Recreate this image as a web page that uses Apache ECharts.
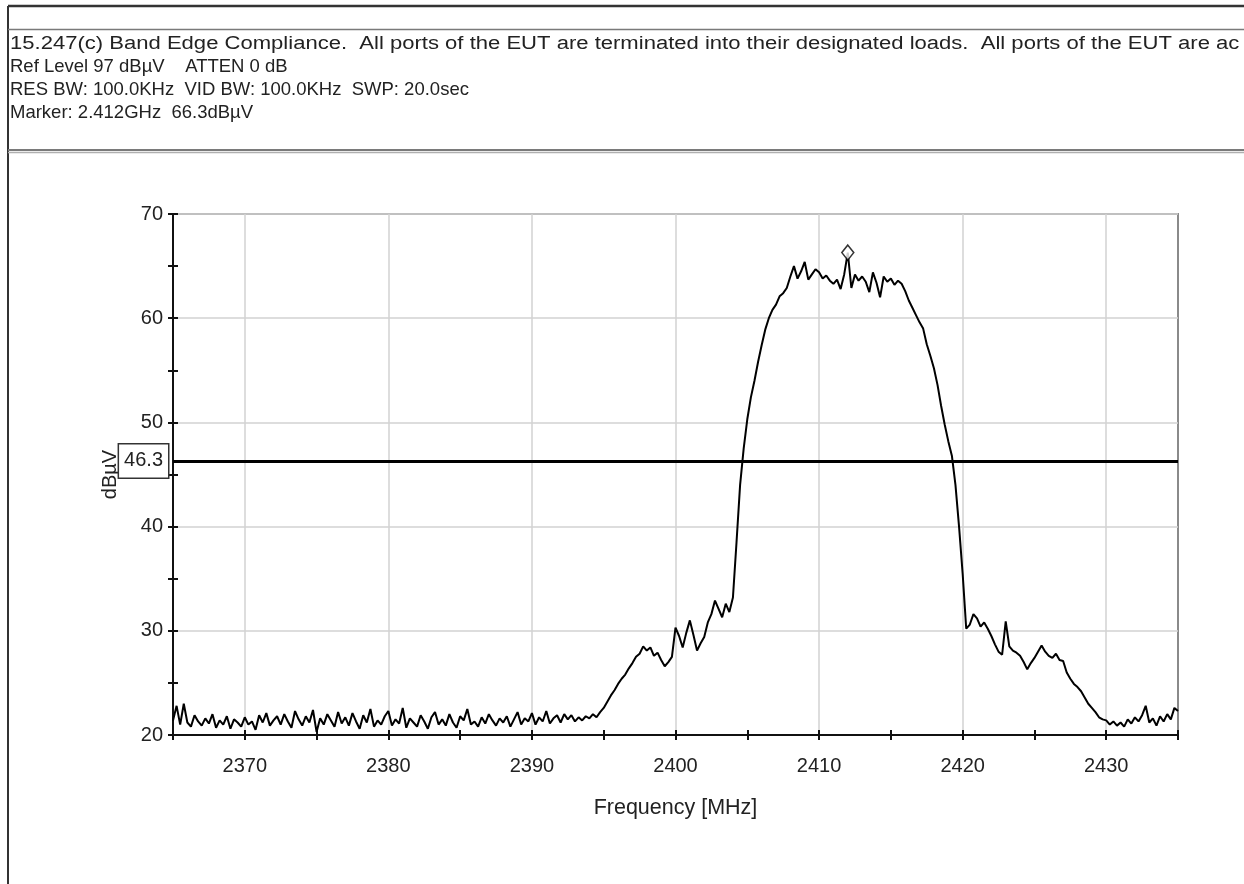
<!DOCTYPE html>
<html>
<head>
<meta charset="utf-8">
<script src="https://cdn.jsdelivr.net/npm/echarts@6/dist/echarts.min.js"></script>
<style>
html,body{margin:0;padding:0;background:#fff;}
#chart{width:1244px;height:884px;}
</style>
</head>
<body>
<div id="chart"></div>
<script>
// Header text lines
const headerLines = [
  "15.247(c) Band Edge Compliance.  All ports of the EUT are terminated into their designated loads.  All ports of the EUT are ac",
  "Ref Level 97 dB\u00b5V    ATTEN 0 dB",
  "RES BW: 100.0KHz  VID BW: 100.0KHz  SWP: 20.0sec",
  "Marker: 2.412GHz  66.3dB\u00b5V"
];

// Sweep frequency grid (MHz)
const sweepStart = 2365;
const sweepStep = 0.25;

const noiseLow = [
  21.4, 22.8, 21.0, 23.0, 21.2, 20.8, 21.9, 21.3, 20.9, 21.6,
  21.1, 22.0, 20.7, 21.4, 21.0, 21.8, 20.6, 21.5, 21.2, 20.8,
  21.7, 21.0, 21.3, 20.5, 21.9, 21.2, 22.1, 20.9, 21.4, 21.8,
  21.0, 22.0, 21.3, 20.7, 22.3, 21.5, 20.9, 21.8, 21.2, 22.4,
  20.3, 21.6, 21.0, 22.0, 21.4, 20.8, 22.2, 21.1, 21.7, 20.9,
  22.1, 21.3, 20.6, 21.9, 21.2, 22.5, 20.8, 21.4, 21.0, 21.8,
  22.3, 20.9, 21.5, 21.1, 22.6, 20.7, 21.6, 21.2, 20.8, 21.9,
  21.3, 20.6, 21.7, 22.2, 21.0, 21.5, 20.9, 22.0, 21.2, 20.7,
  21.8, 21.4, 22.5, 21.0, 21.3, 20.8, 21.7, 21.1, 22.0, 21.4,
  20.9, 21.6, 21.2, 21.8, 20.8, 21.5, 22.2, 21.0, 21.6, 21.3,
  22.1, 21.0, 21.7, 21.3, 22.3, 21.1, 21.6, 21.9, 21.2, 22.0,
  21.5, 21.9, 21.3, 21.7, 21.4, 21.8, 21.6, 22.0, 21.7, 22.2
];
const riseLow = [
  22.6, 23.2, 23.8, 24.3, 24.9, 25.4, 25.8, 26.4, 26.9, 27.5,
  27.8, 28.5, 28.1, 28.4, 27.6, 27.9, 27.2, 26.6, 27.0, 27.5,
  30.3, 29.5, 28.4, 29.8, 31.0, 29.6, 28.1, 28.8, 29.4, 30.8,
  31.6, 32.9, 32.1, 31.3, 32.6, 31.8, 33.2, 38.5, 44.0, 47.5
];
const bandTop = [
  50.3, 52.4, 54.0, 55.8, 57.4, 58.9, 60.0, 60.8, 61.3, 62.1,
  62.4, 62.9, 64.0, 65.0, 63.8, 64.5, 65.4, 63.7, 64.2, 64.7,
  64.4, 63.8, 64.1, 63.6, 63.3, 63.7, 62.8, 64.2, 66.3, 62.9,
  64.2, 63.6, 64.0, 63.5, 62.5, 64.4, 63.4, 62.0, 64.0, 63.5,
  63.8, 63.2, 63.6, 63.3, 62.6, 61.7, 61.0, 60.3, 59.6, 59.0,
  57.5, 56.4, 55.2, 53.6, 51.6, 49.8, 48.2, 46.8, 44.0, 40.0
];
const tailHigh = [
  35.5, 30.2, 30.6, 31.6, 31.2, 30.4, 30.8, 30.2, 29.5, 28.7,
  28.0, 27.7, 30.9, 28.5, 28.1, 27.9, 27.6, 27.0, 26.3, 26.9,
  27.4, 28.0, 28.6, 28.0, 27.6, 27.4, 27.8, 27.2, 27.1, 26.0,
  25.4, 24.9, 24.6, 24.2, 23.6, 23.0, 22.6, 22.2, 21.7, 21.5,
  21.4, 21.0, 21.3, 20.9, 21.2, 20.8, 21.5, 21.1, 21.7, 21.3,
  21.9, 22.8, 21.2, 21.6, 20.9, 21.8, 21.3, 22.0, 21.5, 22.6,
  22.3
];

const limitLevel = 46.3;
const markerPoint = [2412, 66.3];

const xLabelValues = [2370, 2380, 2390, 2400, 2410, 2420, 2430];
const yLabelValues = [20, 30, 40, 50, 60, 70];

const trace = noiseLow.concat(riseLow, bandTop, tailHigh);
const traceData = trace.map((v, i) => [sweepStart + i * sweepStep, v]);

const chart = echarts.init(document.getElementById('chart'), null, {renderer: 'canvas'});

const FONT = '"Liberation Sans", Arial, sans-serif';
const TXT = '#222';

const headerGraphics = headerLines.map((t, i) => ({
  type: 'text',
  x: 10,
  y: 44 + i * 23,
  scaleX: i === 0 ? 1.225 : 1.0,
  style: {text: t, font: (i === 0 ? '18px ' : '18.5px ') + FONT, fill: TXT, verticalAlign: 'middle', align: 'left'}
}));

const option = {
  animation: false,
  backgroundColor: '#fff',
  grid: {
    left: 173, top: 214, right: 66, bottom: 149,
    show: true, borderColor: '#8a8a8a', borderWidth: 2, backgroundColor: 'transparent'
  },
  xAxis: [{
    type: 'value', min: 2365, max: 2435, interval: 5,
    name: 'Frequency [MHz]', nameLocation: 'middle', nameGap: 62,
    nameTextStyle: {fontFamily: FONT, fontSize: 21.5, color: TXT},
    axisLine: {show: true, onZero: false, lineStyle: {color: '#111', width: 2}},
    axisTick: {show: true, inside: false, length: 5, lineStyle: {color: '#111', width: 2}},
    axisLabel: {
      margin: 21, fontFamily: FONT, fontSize: 20, color: TXT,
      formatter: v => xLabelValues.indexOf(Math.round(v)) >= 0 ? String(Math.round(v)) : ''
    },
    splitLine: {show: true, lineStyle: {color: ['rgba(0,0,0,0)', '#d2d2d2'], width: 1.5}}
  }, {
    type: 'value', min: 2365, max: 2435, interval: 5, position: 'bottom',
    axisLine: {show: false, onZero: false},
    axisTick: {show: true, inside: true, length: 5, lineStyle: {color: '#111', width: 2}},
    axisLabel: {show: false}, splitLine: {show: false}
  }],
  yAxis: [{
    type: 'value', min: 20, max: 70, interval: 5,
    name: 'dB\u00b5V', nameLocation: 'middle', nameGap: 53, nameRotate: 90,
    nameTextStyle: {fontFamily: FONT, fontSize: 20, color: TXT},
    axisLine: {show: true, onZero: false, lineStyle: {color: '#111', width: 2}},
    axisTick: {show: true, inside: false, length: 5, lineStyle: {color: '#111', width: 2}},
    axisLabel: {
      margin: 10, fontFamily: FONT, fontSize: 20, color: TXT,
      formatter: v => yLabelValues.indexOf(Math.round(v)) >= 0 ? String(Math.round(v)) : ''
    },
    splitLine: {show: true, lineStyle: {color: ['#d2d2d2', 'rgba(0,0,0,0)'], width: 1.5}}
  }, {
    type: 'value', min: 20, max: 70, interval: 5, position: 'left',
    axisLine: {show: false, onZero: false},
    axisTick: {show: true, inside: true, length: 5, lineStyle: {color: '#111', width: 2}},
    axisLabel: {show: false}, splitLine: {show: false}
  }],
  graphic: [
    {type: 'line', shape: {x1: 8, y1: 6, x2: 1244, y2: 6}, style: {stroke: '#333', lineWidth: 2.5}},
    {type: 'line', shape: {x1: 8, y1: 6, x2: 8, y2: 884}, style: {stroke: '#333', lineWidth: 2}},
    {type: 'line', shape: {x1: 8, y1: 29.5, x2: 1244, y2: 29.5}, style: {stroke: '#7a7a7a', lineWidth: 1.5}},
    {type: 'line', shape: {x1: 8, y1: 150, x2: 1244, y2: 150}, style: {stroke: '#7a7a7a', lineWidth: 2}},
    {type: 'line', shape: {x1: 8, y1: 152.5, x2: 1244, y2: 152.5}, style: {stroke: '#b0b0b0', lineWidth: 1.5}}
  ].concat(headerGraphics),
  series: [{
    type: 'line',
    data: traceData,
    showSymbol: false,
    symbol: 'none',
    lineStyle: {color: '#000', width: 2},
    silent: true,
    z: 3,
    markLine: {
      silent: true,
      symbol: ['none', 'none'],
      lineStyle: {color: '#000', width: 3, type: 'solid'},
      label: {
        show: true, position: 'start', distance: 5,
        formatter: String(limitLevel),
        fontFamily: FONT, fontSize: 20, color: TXT,
        backgroundColor: '#fff', borderColor: '#333', borderWidth: 1.5,
        padding: [7, 5, 6, 5]
      },
      data: [{yAxis: limitLevel}]
    }
  }, {
    type: 'scatter',
    data: [markerPoint],
    symbol: 'diamond',
    symbolSize: [12, 15],
    itemStyle: {color: '#fff', borderColor: '#000', borderWidth: 1.5},
    silent: true,
    z: 5
  }]
};

chart.setOption(option);
</script>
</body>
</html>
